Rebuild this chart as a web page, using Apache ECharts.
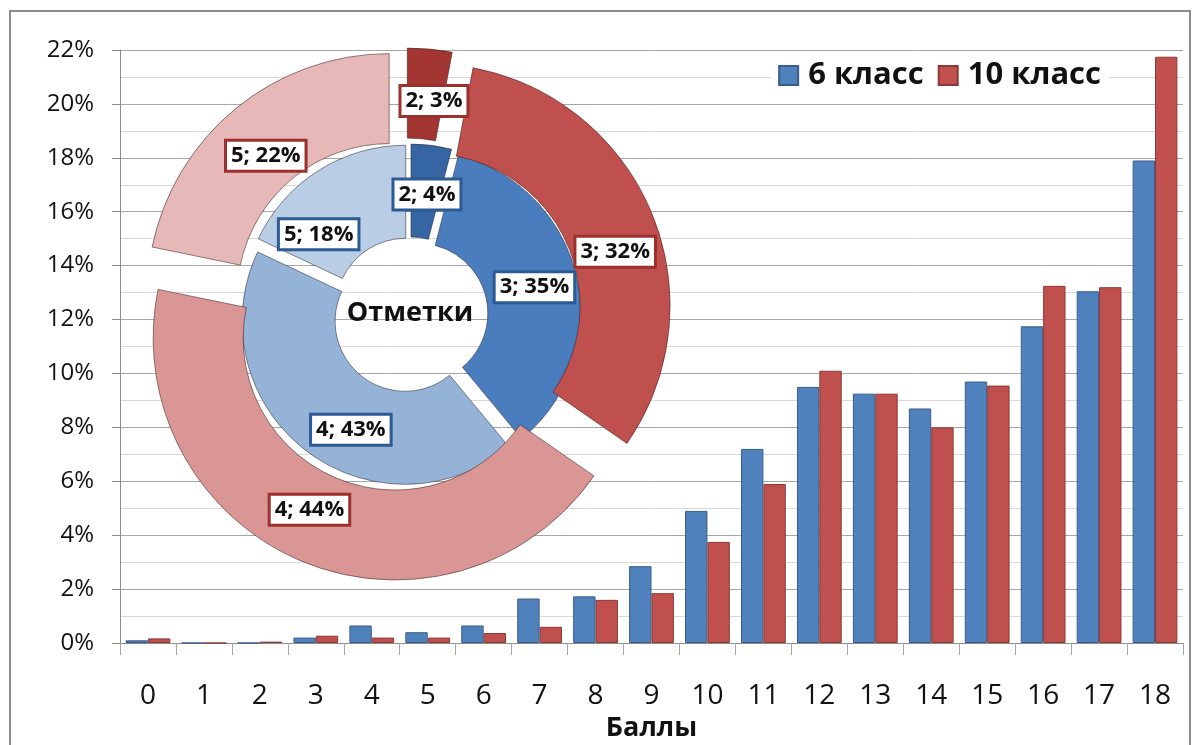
<!DOCTYPE html>
<html>
<head>
<meta charset="utf-8">
<script src="https://cdn.jsdelivr.net/npm/echarts@6/dist/echarts.min.js"></script>
<style>
  html, body { margin: 0; background: #fff; }
  #chart { width: 1197px; height: 745px; }
</style>
</head>
<body>
<div id="chart"></div>
<script>
const scores = ['0','1','2','3','4','5','6','7','8','9','10','11','12','13','14','15','16','17','18'];
const grade6 = [0.1, 0, 0, 0.2, 0.65, 0.4, 0.65, 1.65, 1.73, 2.85, 4.9, 7.2, 9.5, 9.25, 8.7, 9.7, 11.75, 13.05, 17.9];
const grade10 = [0.17, 0, 0.05, 0.27, 0.2, 0.2, 0.37, 0.6, 1.6, 1.85, 3.75, 5.9, 10.1, 9.25, 8.0, 9.55, 13.25, 13.2, 21.75];

// отметки (внутреннее кольцо — 6 класс, внешнее — 10 класс)
const marks = ['2', '3', '4', '5'];
const marks6 = [4, 35, 43, 18];
const marks10 = [3, 32, 44, 22];

const FONT = '"Open Sans", "Noto Sans", sans-serif';

const innerColors = ['#3565a2', '#4a7dbd', '#95b3d7', '#b9cde5'];
const outerColors = ['#a33532', '#c0504d', '#d99694', '#e6b8b7'];
// подписи в исходнике сдвинуты вручную
const innerLabelShift = [[1, 6], [0, 0], [19, 14], [-23, 27]];
const outerLabelShift = [[8, 10], [2, 22], [-7, -12], [3, 15]];

function ringData(values, colors) {
  return marks.map((m, i) => ({
    name: m,
    value: values[i],
    selected: true, // все сектора "выдвинуты"
    itemStyle: { color: colors[i] },
  }));
}

function boxLabel(border) {
  return {
    show: true,
    position: 'inside',
    formatter: '{b}; {c}%',
    fontFamily: FONT,
    fontSize: 22,
    fontWeight: 'bold',
    color: '#111',
    backgroundColor: '#fff',
    borderColor: border,
    borderWidth: 3,
    padding: [4, 4, 2, 4],
  };
}

const chart = echarts.init(document.getElementById('chart'));

const option = {
  animation: false,
  textStyle: { fontFamily: FONT },
  grid: { left: 120, right: 14, top: 50, bottom: 102, containLabel: false, outerBoundsMode: 'none' },
  title: {
    text: 'Отметки',
    left: 410,
    top: 300,
    textAlign: 'center',
    padding: 0,
    textStyle: {
      fontFamily: FONT,
      fontSize: 27,
      fontWeight: 'bold',
      color: '#111',
      backgroundColor: '#fff',
    },
  },
  legend: {
    data: ['6 класс', '10 класс'],
    right: 88,
    top: 56,
    icon: 'rect',
    itemWidth: 19,
    itemHeight: 19,
    itemGap: 14,
    backgroundColor: '#fff',
    padding: [4, 8],
    textStyle: {
      fontFamily: FONT,
      fontSize: 31,
      fontWeight: 'bold',
      color: '#111',
      padding: [0, 0, 0, 5],
    },
  },
  graphic: [
    {
      type: 'rect',
      z: -10,
      shape: { x: 10, y: 11, width: 1180, height: 800 },
      style: { fill: 'none', stroke: '#8c8c8c', lineWidth: 2 },
    },
  ],
  xAxis: {
    type: 'category',
    data: scores,
    name: 'Баллы',
    nameLocation: 'middle',
    nameGap: 57,
    nameTextStyle: { fontFamily: FONT, fontSize: 27, fontWeight: 'bold', color: '#111' },
    axisLine: { lineStyle: { color: '#8c8c8c' } },
    axisTick: { show: true, length: 12, lineStyle: { color: '#a6a6a6' } },
    axisLabel: { fontFamily: FONT, fontSize: 28, color: '#111', margin: 39 },
  },
  yAxis: {
    type: 'value',
    min: 0,
    max: 22,
    interval: 2,
    axisLine: { show: true, lineStyle: { color: '#8c8c8c' } },
    axisTick: { show: true, length: 8, lineStyle: { color: '#8c8c8c' } },
    axisLabel: { formatter: '{value}%', fontFamily: FONT, fontSize: 24, color: '#111', margin: 26 },
    splitLine: { lineStyle: { color: '#a6a6a6' } },
    minorTick: { show: false, splitNumber: 2 },
    minorSplitLine: { show: true, lineStyle: { color: '#d9d9d9' } },
  },
  series: [
    {
      name: '6 класс',
      type: 'bar',
      data: grade6,
      barGap: '0%',
      barCategoryGap: '20%',
      itemStyle: { color: '#4f81bd', borderColor: '#385d8a', borderWidth: 1 },
    },
    {
      name: '10 класс',
      type: 'bar',
      data: grade10,
      itemStyle: { color: '#c0504d', borderColor: '#8c3836', borderWidth: 1 },
    },
    {
      name: 'Отметки 6',
      type: 'pie',
      center: [410, 315],
      radius: [70, 163],
      selectedMode: 'multiple',
      selectedOffset: 8,
      z: 5,
      itemStyle: { borderColor: 'rgba(40,40,60,0.55)', borderWidth: 1 },
      label: boxLabel('#2c5a92'),
      labelLine: { show: false },
      labelLayout: (p) => ({ dx: innerLabelShift[p.dataIndex][0], dy: innerLabelShift[p.dataIndex][1] }),
      emphasis: { disabled: true },
      data: ringData(marks6, innerColors),
    },
    {
      name: 'Отметки 10',
      type: 'pie',
      center: [405, 315],
      radius: [152, 242],
      selectedMode: 'multiple',
      selectedOffset: 25,
      z: 5,
      itemStyle: { borderColor: 'rgba(60,30,30,0.55)', borderWidth: 1 },
      label: boxLabel('#9c302d'),
      labelLine: { show: false },
      labelLayout: (p) => ({ dx: outerLabelShift[p.dataIndex][0], dy: outerLabelShift[p.dataIndex][1] }),
      emphasis: { disabled: true },
      data: ringData(marks10, outerColors),
    },
  ],
};

chart.setOption(option);
</script>
</body>
</html>
